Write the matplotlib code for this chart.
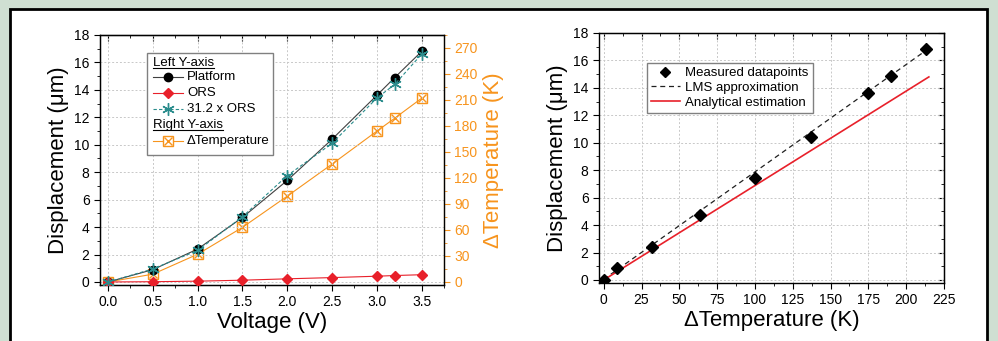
import matplotlib
matplotlib.use("Agg")
import matplotlib.pyplot as plt
from matplotlib.lines import Line2D
from matplotlib.patches import Rectangle
from matplotlib.ticker import MultipleLocator

plt.rcParams['font.family'] = ['Liberation Sans', 'DejaVu Sans']

# ---- data ----
voltage = [0.0, 0.5, 1.0, 1.5, 2.0, 2.5, 3.0, 3.2, 3.5]
platform = [0.0, 0.9, 2.4, 4.7, 7.4, 10.4, 13.6, 14.9, 16.8]
ors = [0.0, 0.02, 0.06, 0.13, 0.23, 0.32, 0.42, 0.47, 0.53]
ors_scaled = [0.0, 0.95, 2.3, 4.75, 7.75, 10.1, 13.4, 14.4, 16.6]
delta_temp = [0.0, 9, 32, 63, 99, 136, 174, 189, 212]

meas_temp = [0.0, 9, 32, 64, 100, 137, 175, 190, 213]
meas_disp = [0.0, 0.9, 2.4, 4.7, 7.4, 10.4, 13.6, 14.9, 16.8]
lms_temp = [0, 214]
lms_disp = [0.05, 16.8]
ana_temp = [0, 215]
ana_disp = [0.0, 14.8]

ORANGE = '#f7941d'
RED = '#e8202a'
TEAL = '#2a8c8c'
GRID = '#c8c8c8'

W, H = 998, 341
fig = plt.figure(figsize=(W / 100, H / 100), dpi=100)
fig.patch.set_facecolor('#cfdfd2')

# white panel with black border
fig.patches.append(Rectangle((10 / W, -0.05), (987 - 10) / W, 1.05 - 9 / H,
                             transform=fig.transFigure, facecolor='white',
                             edgecolor='black', linewidth=2, zorder=-5))


def fa(x0, y0, x1, y1):
    return [x0 / W, 1 - y1 / H, (x1 - x0) / W, (y1 - y0) / H]


def style_axes(ax):
    ax.tick_params(axis='both', which='both', direction='out', labelsize=10,
                   top=False, right=False)
    ax.tick_params(which='major', length=4)
    ax.tick_params(which='minor', length=2)
    ax.grid(True, which='major', color=GRID, linestyle=(0, (2, 2)), linewidth=0.7)
    for s in ax.spines.values():
        s.set_linewidth(1.0)
    sec = ax.secondary_xaxis('top')
    sec.tick_params(direction='in', labeltop=False, length=4)
    sec.tick_params(which='minor', direction='in', length=2)
    return sec


# ---- left panel ----
ax1 = fig.add_axes(fa(100, 35, 444, 285))
sec1 = style_axes(ax1)
ax1.set_xlim(-0.09, 3.75)
ax1.set_ylim(-0.22, 18)
ax1.xaxis.set_major_locator(MultipleLocator(0.5))
ax1.xaxis.set_minor_locator(MultipleLocator(0.25))
ax1.yaxis.set_major_locator(MultipleLocator(2))
ax1.yaxis.set_minor_locator(MultipleLocator(1))
sec1.xaxis.set_major_locator(MultipleLocator(0.5))
sec1.xaxis.set_minor_locator(MultipleLocator(0.25))
sec1.xaxis.set_major_formatter(plt.NullFormatter())
ax1.xaxis.set_major_formatter(plt.FuncFormatter(lambda v, p: f"{v:.1f}"))

ax2 = ax1.twinx()
ax2.set_ylim(-3.5, 285)
ax2.yaxis.set_major_locator(MultipleLocator(30))
ax2.yaxis.set_minor_locator(MultipleLocator(15))
ax2.tick_params(axis='y', which='both', direction='out', colors=ORANGE, labelsize=10)
ax2.tick_params(axis='y', which='major', length=4)
ax2.tick_params(axis='y', which='minor', length=2)
ax2.spines['right'].set_color(ORANGE)
ax2.set_ylabel('ΔTemperature (K)', color=ORANGE, fontsize=16, labelpad=4)

SQ_MS, X_MS, ST_MS = 7.5, 6, 9
ax2.plot(voltage, delta_temp, color=ORANGE, lw=0.8, zorder=2)
ax2.plot(voltage, delta_temp, ls='none', marker='s', ms=SQ_MS, mfc='none', mec=ORANGE, mew=1.0, zorder=5)
ax2.plot(voltage, delta_temp, ls='none', marker='x', ms=X_MS, mec=ORANGE, mew=1.0, zorder=5)

ax1.plot(voltage, platform, color='#404040', lw=0.8, marker='o', ms=6, mfc='black', mec='black', zorder=3)
ax1.plot(voltage, ors, color=RED, lw=0.8, marker='D', ms=5, mfc=RED, mec=RED, zorder=3)
ax1.plot(voltage, ors_scaled, color=TEAL, lw=0.8, ls=(0, (3, 2)), marker=(6, 2, 0), ms=ST_MS, mec=TEAL, mew=1.0, zorder=4)
ax1.set_zorder(ax2.get_zorder() + 1)
ax1.patch.set_visible(False)

ax1.set_xlabel('Voltage (V)', fontsize=16, labelpad=2)
ax1.set_ylabel('Displacement (μm)', fontsize=16, labelpad=4)


# manual legend (axes fraction)
def xf(px):
    return (px - 100) / 344


def yf(py):
    return (285 - py) / 250


ax1.add_patch(Rectangle((xf(147), yf(155)), xf(273) - xf(147), yf(53) - yf(155),
                        transform=ax1.transAxes, facecolor='white', edgecolor='#808080',
                        linewidth=1.0, zorder=10))
lx0, lx1, lm, tx = xf(153), xf(183), xf(168), xf(187)
rows = [62.7, 76.7, 92.7, 109, 125, 141]
leg_fs = 9.5


def header(py, txt):
    return ax1.text(lx0, yf(py), txt, transform=ax1.transAxes, fontsize=leg_fs,
                    va='center', ha='left', zorder=11)


headers = [header(rows[0], 'Left Y-axis'), header(rows[4], 'Right Y-axis')]


def entry(py, txt, lc, ls='-', markers=()):
    y = yf(py)
    ax1.add_line(Line2D([lx0, lx1], [y, y], transform=ax1.transAxes, zorder=11,
                        lw=0.8, color=lc, ls=ls))
    for m in markers:
        ax1.add_line(Line2D([lm], [y], transform=ax1.transAxes, ls='none', zorder=12, **m))
    ax1.text(tx, y, txt, transform=ax1.transAxes, fontsize=leg_fs, va='center', ha='left', zorder=11)


entry(rows[1], 'Platform', '#404040', markers=[dict(marker='o', ms=6, mfc='black', mec='black')])
entry(rows[2], 'ORS', RED, markers=[dict(marker='D', ms=5, mfc=RED, mec=RED)])
entry(rows[3], '31.2 x ORS', TEAL, ls=(0, (3, 2)),
      markers=[dict(marker=(6, 2, 0), ms=ST_MS, mec=TEAL, mew=1.0)])
entry(rows[5], 'ΔTemperature', ORANGE,
      markers=[dict(marker='s', ms=SQ_MS, mfc='white', mec=ORANGE, mew=1.0),
               dict(marker='x', ms=X_MS, mec=ORANGE, mew=1.0)])

# ---- right panel ----
ax3 = fig.add_axes(fa(599, 33, 944, 283))
sec3 = style_axes(ax3)
ax3.set_xlim(-3.1, 225)
ax3.set_ylim(-0.22, 18)
ax3.xaxis.set_major_locator(MultipleLocator(25))
ax3.xaxis.set_minor_locator(MultipleLocator(12.5))
ax3.yaxis.set_major_locator(MultipleLocator(2))
ax3.yaxis.set_minor_locator(MultipleLocator(1))
sec3.xaxis.set_major_locator(MultipleLocator(25))
sec3.xaxis.set_minor_locator(MultipleLocator(12.5))
sec3.xaxis.set_major_formatter(plt.NullFormatter())
sec3y = ax3.secondary_yaxis('right')
sec3y.tick_params(direction='in', labelright=False, length=4)
sec3y.tick_params(which='minor', direction='in', length=2)
sec3y.yaxis.set_major_locator(MultipleLocator(2))
sec3y.yaxis.set_minor_locator(MultipleLocator(1))
sec3y.yaxis.set_major_formatter(plt.NullFormatter())

ax3.plot(lms_temp, lms_disp, color='#202020', lw=0.9, ls=(0, (4, 3)), label='LMS approximation', zorder=3)
ax3.plot(ana_temp, ana_disp, color=RED, lw=1.2, label='Analytical estimation', zorder=3)
ax3.plot(meas_temp, meas_disp, ls='none', marker='D', ms=6, mfc='black', mec='black',
         label='Measured datapoints', zorder=4)
h, l = ax3.get_legend_handles_labels()
order = [2, 0, 1]
leg = ax3.legend([h[i] for i in order], [l[i] for i in order],
                 loc='upper left', bbox_to_anchor=(0.139, 0.88), fontsize=9.5,
                 frameon=True, fancybox=False, edgecolor='#808080', framealpha=1,
                 handlelength=2.2, borderpad=0.3, labelspacing=0.2, handletextpad=0.4,
                 borderaxespad=0, markerscale=0.85)
leg.get_frame().set_linewidth(1.0)
ax3.set_xlabel('ΔTemperature (K)', fontsize=16, labelpad=2)
ax3.set_ylabel('Displacement (μm)', fontsize=16, labelpad=4)

# underline legend headers
fig.canvas.draw()
r = fig.canvas.get_renderer()
inv = fig.transFigure.inverted()
for t in headers:
    bb = t.get_window_extent(renderer=r)
    (x0, y0), (x1, _) = inv.transform([(bb.x0, bb.y0 + 1), (bb.x1, bb.y0 + 1)])
    fig.add_artist(Line2D([x0, x1], [y0, y0], transform=fig.transFigure, color='black', lw=0.8, zorder=20))

fig.savefig('out.png', dpi=100, facecolor=fig.get_facecolor())
